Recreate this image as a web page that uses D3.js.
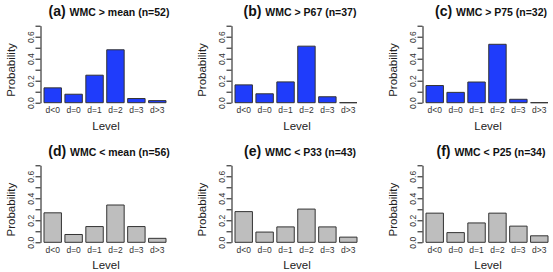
<!DOCTYPE html>
<html lang="en">
<head>
    <meta charset="UTF-8">
    <title>WMC level probabilities</title>
    <script src="https://d3js.org/d3.v7.min.js"></script>
    <style>
        body { margin: 0; background: #fff; }
        text { font-family: "Liberation Sans", Arial, sans-serif; }
    </style>
</head>
<body>
    <div id="chart"></div>
    <script>
        const levels = ["d<0", "d=0", "d=1", "d=2", "d=3", "d>3"];
        const panelLetters = ["(a)", "(b)", "(c)", "(d)", "(e)", "(f)"];
        const panelTitles = ["WMC > mean (n=52)", "WMC > P67 (n=37)", "WMC > P75 (n=32)",
                             "WMC < mean (n=56)", "WMC < P33 (n=43)", "WMC < P25 (n=34)"];
        const probA = [0.135, 0.077, 0.250, 0.481, 0.038, 0.019];
        const probB = [0.162, 0.081, 0.189, 0.514, 0.054, 0.000];
        const probC = [0.156, 0.094, 0.188, 0.531, 0.031, 0.000];
        const probD = [0.268, 0.071, 0.143, 0.339, 0.143, 0.036];
        const probE = [0.279, 0.093, 0.140, 0.302, 0.140, 0.047];
        const probF = [0.265, 0.088, 0.176, 0.265, 0.147, 0.059];
        const yTicks = [0, 0.1, 0.2, 0.3, 0.4, 0.5, 0.6, 0.7];

        const series = [probA, probB, probC, probD, probE, probF];
        const fills = ["#1f3cfb", "#1f3cfb", "#1f3cfb", "#bebebe", "#bebebe", "#bebebe"];

        const W = 553, H = 272;
        const colX = [0, 191, 382];
        const rowY = [0, 139.6];
        const axisX = 40.5;

        const svg = d3.select("#chart").append("svg")
            .attr("width", W).attr("height", H);

        // same scales for every panel (local coords)
        const x = d3.scaleBand()
            .domain(levels)
            .range([44, 166])
            .paddingInner(1 / 6)
            .paddingOuter(0);

        const y = d3.scaleLinear()
            .domain([0, 0.7])
            .range([102.7, 25.7]);

        // bars as paths so a zero bar still shows its outline
        function barPath(d, j) {
            const p = d3.path();
            p.rect(x(levels[j]), y(d), x.bandwidth(), y(0) - y(d));
            return p.toString();
        }

        series.forEach(function(vals, i) {
            const g = svg.append("g")
                .attr("transform", `translate(${colX[i % 3]},${rowY[Math.floor(i / 3)]})`);

            // bars
            g.selectAll(".bar")
                .data(vals)
                .enter()
                .append("path")
                .attr("class", "bar")
                .attr("d", barPath)
                .style("fill", fills[i])
                .style("stroke", "#333")
                .style("stroke-width", 1);

            // y axis, labels every 0.2 rotated like R
            const ax = g.append("g")
                .attr("transform", `translate(${axisX},0)`)
                .call(d3.axisLeft(y)
                    .tickValues(yTicks)
                    .tickSize(5)
                    .tickSizeOuter(0)
                    .tickFormat((d, k) => k % 2 === 0 ? d3.format(".1f")(d) : ""));
            ax.select(".domain").attr("stroke", "#111");
            ax.selectAll(".tick line").attr("stroke", "#111");
            ax.selectAll(".tick text")
                .attr("x", 0)
                .attr("y", -6.5)
                .attr("dy", 0)
                .attr("transform", "rotate(-90)")
                .attr("text-anchor", "middle")
                .attr("fill", "#333")
                .style("font-size", "8.5px");

            // x tick labels
            g.selectAll(".xlab")
                .data(levels)
                .enter()
                .append("text")
                .attr("class", "xlab")
                .attr("x", d => x(d) + x.bandwidth() / 2)
                .attr("y", 113)
                .attr("text-anchor", "middle")
                .attr("fill", "#333")
                .style("font-size", "8.5px")
                .text(d => d);

            // axis titles
            g.append("text")
                .attr("x", 106)
                .attr("y", 129.5)
                .attr("text-anchor", "middle")
                .attr("fill", "#222")
                .style("font-size", "11.5px")
                .text("Level");

            g.append("text")
                .attr("transform", "translate(14.5,70) rotate(-90)")
                .attr("text-anchor", "middle")
                .attr("fill", "#222")
                .style("font-size", "11.5px")
                .text("Probability");

            // panel title
            const t = g.append("text")
                .attr("x", 109)
                .attr("y", 16)
                .attr("text-anchor", "middle")
                .attr("fill", "#111")
                .style("font-weight", "bold");
            t.append("tspan").style("font-size", "14px").text(panelLetters[i] + " ");
            t.append("tspan").style("font-size", "10.5px").text(panelTitles[i]);
        });
    </script>
</body>
</html>
